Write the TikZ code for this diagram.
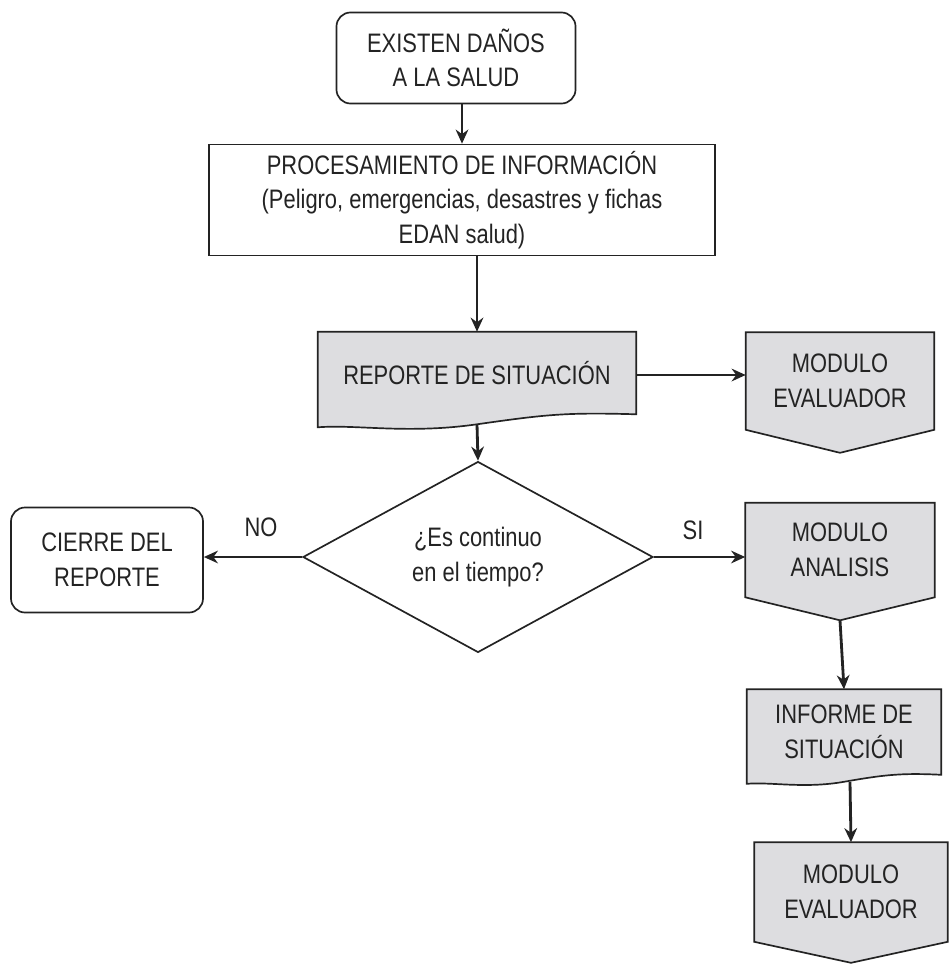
\documentclass[tikz,border=0pt]{standalone}
\usepackage{fontspec}
\setmainfont{Liberation Sans}[FakeStretch=0.82]
\usepackage{tikz}
\usetikzlibrary{shapes.geometric, arrows.meta, calc, positioning, backgrounds}
\definecolor{boxgray}{RGB}{221,221,224}
\definecolor{inkgray}{RGB}{35,35,35}

\begin{document}
\begin{tikzpicture}[x=0.025cm, y=-0.025cm, >={Stealth[length=10pt,width=9pt]},
    every node/.style={font=\fontsize{19}{24.5}\selectfont, text=inkgray, align=center},
    startbox/.style={draw=inkgray, line width=1.2pt, rounded corners=10pt, inner sep=0pt},
    procbox/.style={draw=inkgray, line width=1.2pt, inner sep=0pt},
    plainbox/.style={inner sep=0pt},
    decision/.style={diamond, draw=inkgray, line width=1.2pt, inner sep=0pt},
    shapeline/.style={draw=inkgray, fill=boxgray, line width=1.2pt, line join=miter},
    flow/.style={->, draw=inkgray, line width=2pt}]

            \useasboundingbox (0,0) rectangle (952,967);

            % Start and processing
            \node[startbox, minimum width=5.975cm, minimum height=2.275cm] (inicio) at (456,58) {EXISTEN DAÑOS\\A LA SALUD};
            \node[procbox, minimum width=12.65cm, minimum height=2.775cm] (proc) at (462,200) {PROCESAMIENTO DE INFORMACIÓN\\(Peligro, emergencias, desastres y fichas\\EDAN salud)};

            % Report and first module
            \node[plainbox, minimum width=7.95cm, minimum height=2.05cm] (rep) at (477,373) {REPORTE DE SITUACIÓN};
            \node[plainbox, minimum width=4.7cm, minimum height=2.425cm] (eval1) at (840,381) {MODULO\\EVALUADOR};

            % Decision
            \node[decision, minimum width=8.75cm, minimum height=4.25cm] (dec) at (478,557) {¿Es continuo\\en el tiempo?};
            \node[startbox, minimum width=4.8cm, minimum height=2.625cm] (cierre) at (107,560) {CIERRE DEL\\REPORTE};
            \node (lno) at (261,527) {NO};
            \node (lsi) at (693,530) {SI};

            % Right column
            \node[plainbox, minimum width=4.725cm, minimum height=2.35cm] (anal) at (840,550) {MODULO\\ANALISIS};
            \node[plainbox, minimum width=4.85cm, minimum height=2.125cm] (inf) at (844,732) {INFORME DE\\SITUACIÓN};
            \node[plainbox, minimum width=4.825cm, minimum height=2.475cm] (eval2) at (851,892) {MODULO\\EVALUADOR};

            % Tips and wave points
            \coordinate (eval1tip) at ($(eval1.south)+(0,23)$);
            \coordinate (analtip) at ($(anal.south)+(0,23)$);
            \coordinate (eval2tip) at ($(eval2.south)+(0,21)$);
            \coordinate (repb) at ($(rep.south)+(0,10)$);
            \coordinate (infb) at ($(inf.south)+(6,7)$);

            % Gray shapes behind the texts
            \begin{scope}[on background layer]
                \filldraw[shapeline] (rep.north west) -- (rep.north east) -- (rep.south east)
                    .. controls +(-70,-2) and +(70,-10) .. (repb)
                    .. controls +(-70,10) and +(40,-3) .. ($(rep.south west)+(0,13)$) -- cycle;
                \filldraw[shapeline] (inf.north west) -- (inf.north east) -- (inf.south east)
                    .. controls +(-40,-2) and +(40,-7) .. ($(inf.south)+(0,7)$)
                    .. controls +(-40,7) and +(25,-2) .. ($(inf.south west)+(0,9)$) -- cycle;
                \filldraw[shapeline] (eval1.north west) -- (eval1.north east) -- (eval1.south east) -- (eval1tip) -- (eval1.south west) -- cycle;
                \filldraw[shapeline] (anal.north west) -- (anal.north east) -- (anal.south east) -- (analtip) -- (anal.south west) -- cycle;
                \filldraw[shapeline] (eval2.north west) -- (eval2.north east) -- (eval2.south east) -- (eval2tip) -- (eval2.south west) -- cycle;
            \end{scope}

            % Arrows
            \draw[flow] (inicio.south -| proc.north) -- (proc.north);
            \draw[flow] (proc.south -| rep.north) -- (rep.north);
            \draw[flow] (rep.east |- 0,375) -- (eval1.west |- 0,375);
            \draw[flow] (repb) -- (dec.north);
            \draw[flow] (dec.west) -- (dec.west -| cierre.east);
            \draw[flow] (dec.east) -- (dec.east -| anal.west);
            \draw[flow] (analtip) -- (inf.north);
            \draw[flow] (infb) -- (eval2.north);

\end{tikzpicture}
\end{document}
